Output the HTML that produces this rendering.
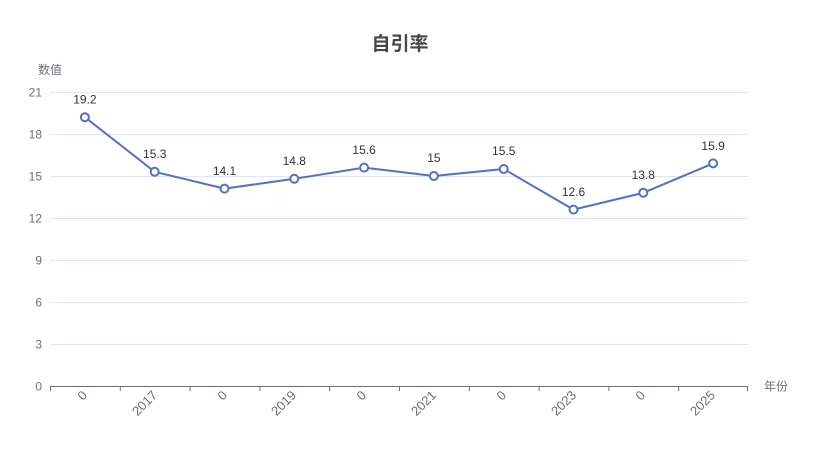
<!DOCTYPE html>
<html><head><meta charset="utf-8"><style>
html,body{margin:0;padding:0;background:#fff;}
svg{display:block;font-family:"Liberation Sans","Noto Sans CJK SC",sans-serif;}
</style></head><body>
<svg width="821" height="453" viewBox="0 0 821 453" xmlns="http://www.w3.org/2000/svg">
<text x="400" y="50" text-anchor="middle" font-size="19" font-weight="bold" fill="#464646">自引率</text>
<text x="50" y="74" text-anchor="middle" font-size="12" fill="#6E7079">数值</text>
<g stroke="#E0E6F1" stroke-width="1">
<line x1="50" y1="92.5" x2="748" y2="92.5"/>
<line x1="50" y1="134.5" x2="748" y2="134.5"/>
<line x1="50" y1="176.5" x2="748" y2="176.5"/>
<line x1="50" y1="218.5" x2="748" y2="218.5"/>
<line x1="50" y1="260.5" x2="748" y2="260.5"/>
<line x1="50" y1="302.5" x2="748" y2="302.5"/>
<line x1="50" y1="344.5" x2="748" y2="344.5"/>
</g>
<g font-size="12" fill="#6E7079" text-anchor="end">
<text x="42" y="96.5">21</text>
<text x="42" y="138.5">18</text>
<text x="42" y="180.5">15</text>
<text x="42" y="222.5">12</text>
<text x="42" y="264.5">9</text>
<text x="42" y="306.5">6</text>
<text x="42" y="348.5">3</text>
<text x="42" y="390.5">0</text>
</g>
<line x1="50" y1="386.5" x2="748" y2="386.5" stroke="#6E7079" stroke-width="1"/>
<g stroke="#6E7079" stroke-width="1">
<line x1="50.5" y1="386" x2="50.5" y2="391"/>
<line x1="120.3" y1="386" x2="120.3" y2="391"/>
<line x1="190.1" y1="386" x2="190.1" y2="391"/>
<line x1="259.9" y1="386" x2="259.9" y2="391"/>
<line x1="329.7" y1="386" x2="329.7" y2="391"/>
<line x1="399.5" y1="386" x2="399.5" y2="391"/>
<line x1="469.3" y1="386" x2="469.3" y2="391"/>
<line x1="539.1" y1="386" x2="539.1" y2="391"/>
<line x1="608.9" y1="386" x2="608.9" y2="391"/>
<line x1="678.7" y1="386" x2="678.7" y2="391"/>
<line x1="747.5" y1="386" x2="747.5" y2="391"/>
</g>
<text x="764" y="390.5" font-size="12" fill="#6E7079">年份</text>
<g font-size="13" fill="#6E7079" text-anchor="end">
<text transform="translate(88,396) rotate(-45)">0</text>
<text transform="translate(158,396) rotate(-45)">2017</text>
<text transform="translate(228,396) rotate(-45)">0</text>
<text transform="translate(297,396) rotate(-45)">2019</text>
<text transform="translate(367,396) rotate(-45)">0</text>
<text transform="translate(437,396) rotate(-45)">2021</text>
<text transform="translate(507,396) rotate(-45)">0</text>
<text transform="translate(577,396) rotate(-45)">2023</text>
<text transform="translate(646,396) rotate(-45)">0</text>
<text transform="translate(716,396) rotate(-45)">2025</text>
</g>
<polyline fill="none" stroke="#5470C6" stroke-width="2" stroke-linejoin="bevel" points="84.9,117.2 154.7,171.8 224.5,188.6 294.3,178.8 364.1,167.6 433.9,176 503.7,169 573.5,209.6 643.3,192.8 713.1,163.4"/>
<g fill="#fff" stroke="#5470C6" stroke-width="2">
<circle cx="84.9" cy="117.2" r="4"/>
<circle cx="154.7" cy="171.8" r="4"/>
<circle cx="224.5" cy="188.6" r="4"/>
<circle cx="294.3" cy="178.8" r="4"/>
<circle cx="364.1" cy="167.6" r="4"/>
<circle cx="433.9" cy="176" r="4"/>
<circle cx="503.7" cy="169" r="4"/>
<circle cx="573.5" cy="209.6" r="4"/>
<circle cx="643.3" cy="192.8" r="4"/>
<circle cx="713.1" cy="163.4" r="4"/>
</g>
<g font-size="12" fill="#333" text-anchor="middle">
<text x="84.9" y="103.5">19.2</text>
<text x="154.7" y="158">15.3</text>
<text x="224.5" y="175">14.1</text>
<text x="294.3" y="165">14.8</text>
<text x="364.1" y="154">15.6</text>
<text x="433.9" y="162">15</text>
<text x="503.7" y="155">15.5</text>
<text x="573.5" y="196">12.6</text>
<text x="643.3" y="179">13.8</text>
<text x="713.1" y="150">15.9</text>
</g>
</svg>
</body></html>
